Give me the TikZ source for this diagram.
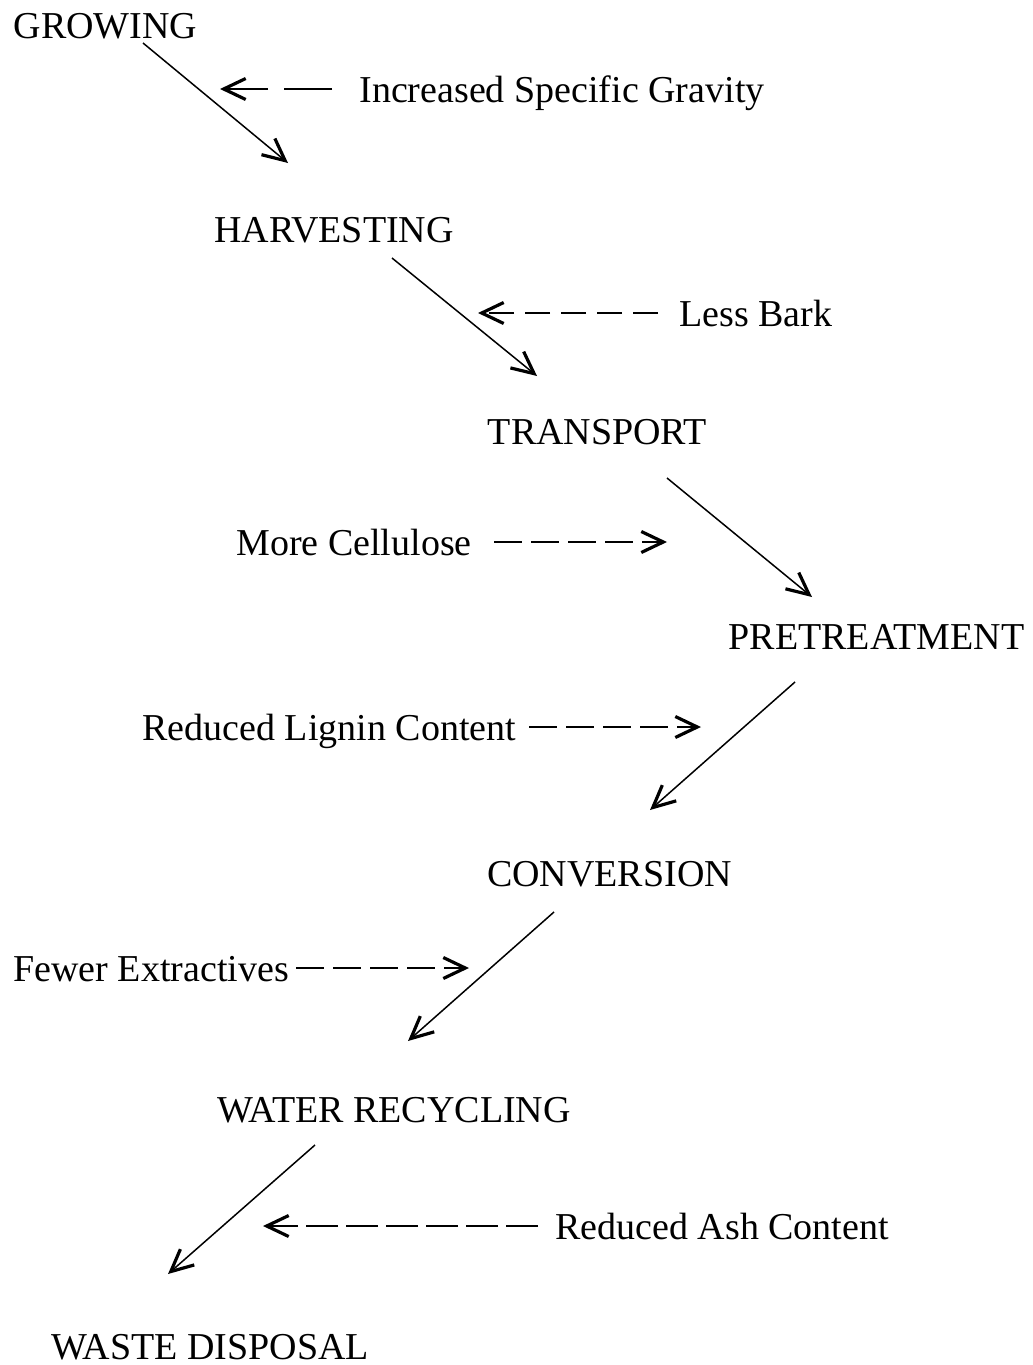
\documentclass[tikz,border=0pt]{standalone}
\usepackage{fontspec}
\setmainfont{Liberation Serif}
\usetikzlibrary{arrows.meta}
\begin{document}
\begin{tikzpicture}[x=0.5pt,y=-0.5pt,
  stage/.style={inner sep=0pt,anchor=base,font=\fontsize{19}{23}\selectfont},
  prop/.style={inner sep=0pt,text height=15pt,text depth=2pt,font=\fontsize{19}{23}\selectfont},
  flow/.style={line width=0.75pt,-{Straight Barb[length=11pt,width=10.5pt,line width=1.6pt]}},
  hint/.style={flow,dash pattern=on 14pt off 4.5pt}]
\useasboundingbox (0,0) rectangle (1033,1365);
\node[stage] (growing) at (105.5,39) {GROWING};
\node[stage] (harvesting) at (334,242) {HARVESTING};
\node[stage] (transport) at (597.5,444) {TRANSPORT};
\node[stage] (pretreatment) at (876.5,649) {PRETREATMENT};
\node[stage] (conversion) at (609.5,886) {CONVERSION};
\node[stage] (recycling) at (394,1122) {WATER RECYCLING};
\node[stage] (disposal) at (210,1359) {WASTE DISPOSAL};
\draw[flow] ([shift={(37.5,4)}]growing.base) -- ([shift={(-46,-79)}]harvesting.base);
\draw[flow] ([shift={(58,16)}]harvesting.base) -- ([shift={(-60.5,-68)}]transport.base);
\draw[flow] ([shift={(69.5,34)}]transport.base) -- ([shift={(-64.5,-52)}]pretreatment.base);
\draw[flow] ([shift={(-81.5,33)}]pretreatment.base) -- ([shift={(40.5,-76)}]conversion.base);
\draw[flow] ([shift={(-55.5,26)}]conversion.base) -- ([shift={(14,-81)}]recycling.base);
\draw[flow] ([shift={(-79,23)}]recycling.base) -- ([shift={(-42,-85)}]disposal.base);
\node[prop,anchor=west] (gravity) at (359,89) {Increased Specific Gravity};
\node[prop,anchor=west] (bark) at (679,313) {Less Bark};
\node[prop,anchor=west] (cellulose) at (236,542) {More Cellulose};
\node[prop,anchor=west] (lignin) at (142,727) {Reduced Lignin Content};
\node[prop,anchor=west] (extractives) at (13,968) {Fewer Extractives};
\node[prop,anchor=west] (ash) at (555,1226) {Reduced Ash Content};
\coordinate (gravitytip) at (220,89);
\coordinate (barktip) at (478,313);
\coordinate (cellulosetip) at (667,542);
\coordinate (lignintip) at (701,727);
\coordinate (extractivestip) at (469,968);
\coordinate (ashtip) at (263,1226);
\draw[hint,dash pattern=on 24pt off 8pt] ([xshift=-13.5pt]gravity.west) -- (gravitytip);
\draw[hint,dash pattern=on 12.5pt off 5.5pt] ([xshift=-10.5pt]bark.west) -- (barktip);
\draw[hint] ([xshift=11pt]cellulose.east) -- (cellulosetip);
\draw[hint] ([xshift=6.5pt]lignin.east) -- (lignintip);
\draw[hint] ([xshift=3.5pt]extractives.east) -- (extractivestip);
\draw[hint,dash pattern=on 16pt off 4pt] ([xshift=-8.5pt]ash.west) -- (ashtip);
\end{tikzpicture}
\end{document}
